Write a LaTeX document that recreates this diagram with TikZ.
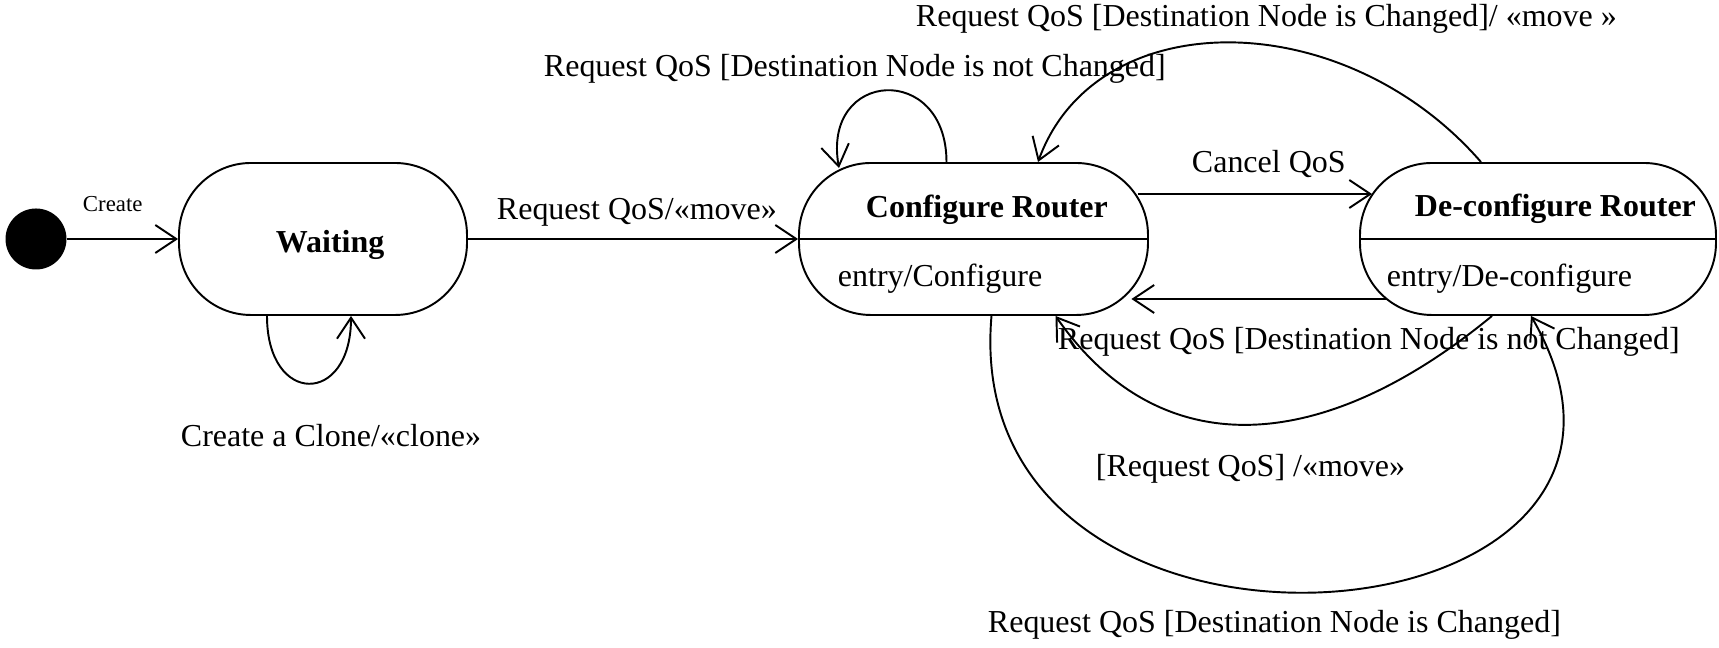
\documentclass[tikz,border=0pt]{standalone}
\usepackage{fontspec}
\setmainfont{Liberation Serif}
\usetikzlibrary{arrows.meta}
\tikzset{state/.style={draw,rounded corners=0.72cm,minimum height=1.52cm,inner sep=0pt},
  trans/.style={-{Straight Barb[length=2.1mm,width=2.8mm]}},
  txt/.style={anchor=base west,inner sep=0pt}}

\begin{document}
\begin{tikzpicture}[line width=0.55pt,font=\fontsize{9.1}{11}\selectfont]
\useasboundingbox (0,0) rectangle (17.19,-6.48);
\node[circle,fill=black,minimum size=0.61cm,inner sep=0pt] (init) at (0.36,-2.39) {};
\node[state,minimum width=2.88cm] (wait) at (3.23,-2.39) {};
\node[state,minimum width=3.49cm] (cfg) at (9.735,-2.39) {};
\node[state,minimum width=3.56cm] (dcfg) at (15.38,-2.39) {};
\draw (cfg.west) -- (cfg.east); \draw (dcfg.west) -- (dcfg.east);
\node[txt,font=\fontsize{9.1}{11}\selectfont\bfseries] (waitname) at (2.75,-2.53) {Waiting};
\node[txt,font=\fontsize{9.1}{11}\selectfont\bfseries] (cfgname) at (8.65,-2.18) {Configure Router};
\node[txt] (cfgact) at (8.37,-2.87) {entry/Configure};
\node[txt,font=\fontsize{9.1}{11}\selectfont\bfseries] (dcfgname) at (14.14,-2.17) {De-configure Router};
\node[txt] (dcfgact) at (13.86,-2.87) {entry/De-configure};
\draw[trans] (init) -- (wait);
\draw[trans] (wait) -- (cfg);
\draw[trans] ([xshift=-0.56cm]wait.south) .. controls +(0,-0.9) and +(0,-0.9) .. ([xshift=0.28cm]wait.south);
\draw[trans] ([xshift=-0.27cm]cfg.north) .. controls +(90:1.0) and +(100:1.0) .. ([xshift=-1.345cm,yshift=-0.06cm]cfg.north);
\draw[trans] ([xshift=-0.57cm]dcfg.north) .. controls +(131:2.1) and +(70:1.7) .. ([xshift=0.645cm]cfg.north);
\draw[trans] ([xshift=-0.11cm,yshift=0.45cm]cfg.east) -- ([xshift=0.13cm,yshift=0.45cm]dcfg.west);
\draw[trans] ([xshift=0.27cm,yshift=-0.6cm]dcfg.west) -- ([xshift=-0.175cm,yshift=-0.6cm]cfg.east);
\draw[trans] ([xshift=-0.46cm]dcfg.south) .. controls +(219.5:2.1) and +(305:1.9) .. ([xshift=0.82cm]cfg.south);
\draw[trans] ([xshift=0.18cm]cfg.south) .. controls +(265:4.0) and +(300:3.9) .. ([xshift=-0.07cm]dcfg.south);
\node[txt,font=\fontsize{6.5}{8}\selectfont] (lcreate) at (0.82,-2.12) {Create};
\node[txt] (lclone) at (1.80,-4.47) {Create a Clone/«clone»};
\node[txt] (lmove) at (4.96,-2.20) {Request QoS/«move»};
\node[txt] (lstay) at (5.43,-0.77) {Request QoS [Destination Node is not Changed]};
\node[txt] (lback) at (9.15,-0.27) {Request QoS [Destination Node is Changed]/ «move »};
\node[txt] (lcancel) at (11.91,-1.73) {Cancel QoS};
\node[txt] (lnot) at (10.57,-3.50) {Request QoS [Destination Node is not Changed]};
\node[txt] (lreq) at (10.95,-4.77) {[Request QoS] /«move»};
\node[txt] (lchg) at (9.87,-6.33) {Request QoS [Destination Node is Changed]};
\end{tikzpicture}
\end{document}
